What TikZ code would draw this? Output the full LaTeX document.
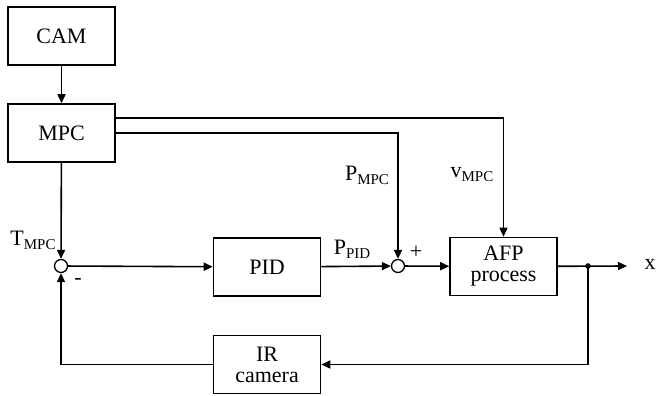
\documentclass[tikz,border=0pt]{standalone}
\usepackage{fontspec}
\setmainfont{Liberation Serif}
\usetikzlibrary{arrows.meta}
\newcommand{\subtxt}[1]{\raisebox{-4pt}{\fontsize{15}{16}\selectfont #1}}
\begin{document}
\begin{tikzpicture}[x=1pt,y=-1pt,
  blk/.style={draw,line width=1.6pt,minimum width=107pt,minimum height=58pt,
    align=center,font=\fontsize{22}{23}\selectfont,inner sep=0pt},
  sumnode/.style={draw,circle,line width=1.3pt,minimum size=13pt,inner sep=0pt},
  wire/.style={line width=1.6pt},
  arr/.style={wire,-{Triangle[length=9pt,width=8pt]}},
  lbl/.style={font=\fontsize{22}{23}\selectfont,inner sep=0pt}]
\useasboundingbox (0,0) rectangle (656,396);

% blocks
\node[blk] (cam) at (61.5,36) {CAM};
\node[blk] (mpc) at (61.5,133) {MPC};
\node[blk] (pid) at (267,267) {PID};
\node[blk] (afp) at (503.5,266.5) {AFP\\[-2pt]process};
\node[blk] (ir) at (267,364.5) {IR\\[-2pt]camera};

% summing junctions
\node[sumnode] (s1) at (61,266) {};
\node[sumnode] (s2) at (398,266) {};

% branch point and output
\coordinate (br) at (588,266);
\coordinate (out) at (627,266);
\fill (br) circle (2.8pt);

% connections
\draw[arr] (cam) -- (mpc);
\draw[arr] (mpc) -- (s1);
\draw[arr] ([yshift=15pt]mpc.east) -| (afp.north);
\draw[arr] (mpc.east) -| (s2.north);
\draw[arr] (s1) -- (pid);
\draw[arr] (pid) -- (s2);
\draw[arr] (s2) -- (afp);
\draw[arr] (afp) -- (out);
\draw[arr] (br) |- (ir.east);
\draw[arr] (ir.west) -| (s1.south);

% signal labels
\node[lbl] (tmpc) at (33,240) {T\subtxt{MPC}};
\node[lbl] (pmpc) at (367,175) {P\subtxt{MPC}};
\node[lbl] (vmpc) at (472,175) {v\subtxt{MPC}};
\node[lbl] (ppid) at (352,249) {P\subtxt{PID}};
\node[lbl] (plus) at (416,252) {+};
\node[lbl] (minus) at (78,281) {-};
\node[lbl] (xout) at (650,264) {x};
\end{tikzpicture}
\end{document}
